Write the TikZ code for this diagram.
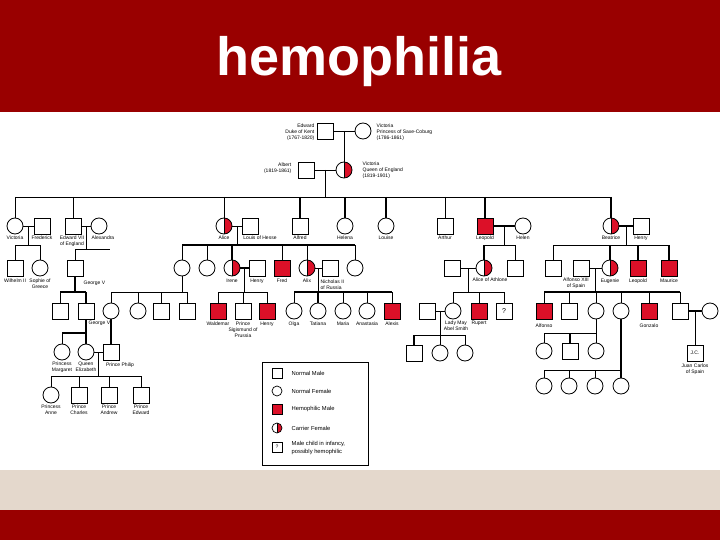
\documentclass[tikz,border=0pt]{standalone}
\usepackage{fontspec}
\setmainfont{Liberation Sans}
\usetikzlibrary{calc}
\definecolor{banred}{RGB}{153,0,0}
\definecolor{hemored}{RGB}{220,16,40}
\definecolor{sand}{RGB}{228,216,204}

\tikzset{
	person/.style={draw,line width=0.8pt,inner sep=0pt,minimum size=16pt},
	male/.style={person,rectangle},
	female/.style={person,circle},
	hemo/.style={male,fill=hemored},
	carrier/.style={female,path picture={\fill[hemored] (path picture bounding box.north) rectangle (path picture bounding box.south east);
		\draw[line width=0.5pt] (path picture bounding box.north) -- (path picture bounding box.south);}},
	query/.style={male,font=\fontsize{7}{7}\selectfont},
	legsz/.style={minimum size=10pt,line width=0.7pt},
	lab/.style={font=\fontsize{5}{6.2}\selectfont,inner sep=0.5pt,align=center},
	keytext/.style={font=\fontsize{5.8}{7.4}\selectfont,inner sep=0.5pt,align=left},
	rel/.style={line width=0.8pt},
	relb/.style={line width=1.8pt},
}

\begin{document}
\begin{tikzpicture}[x=1pt,y=-1pt]
	\useasboundingbox (0,0) rectangle (720,540);
	\fill[banred] (0,0) rectangle (720,112);
	\fill[sand] (0,470) rectangle (720,510);
	\fill[banred] (0,510) rectangle (720,540);
	\node[text=white,font=\fontsize{54}{54}\selectfont\bfseries,anchor=base] (title) at (359,76) {hemophilia};

	% first and second generation
	\node[male] (edw) at (325,131) {};
	\node[female] (vsc) at (363,131) {};
	\node[lab,left,align=right] (l-edw) at (315,132) {Edward\\Duke of Kent\\(1767-1820)};
	\node[lab,right,align=left] (l-vsc) at (376,132) {Victoria\\Princess of Saxe-Coburg\\(1786-1861)};
	\node[male] (alb) at (306,170) {};
	\node[carrier] (vicq) at (344,170) {};
	\node[lab,left,align=right] (l-alb) at (292,168) {Albert\\(1819-1861)};
	\node[lab,right,align=left] (l-vicq) at (362,170) {Victoria\\Queen of England\\(1819-1901)};
	\draw[rel] (edw) -- (vsc);
	\draw[rel] ($(edw)!.5!(vsc)$) -- (vicq);
	\draw[rel] (alb) -- (vicq);

	% children of Victoria
	\node[female] (vic) at (15,226) {};
	\node[male] (fred) at (42,226) {};
	\node[male] (edw7) at (73,226) {};
	\node[female] (alex) at (99,226) {};
	\node[carrier] (alice) at (224,226) {};
	\node[male] (louis) at (250,226) {};
	\node[male] (alf) at (300,226) {};
	\node[female] (hel) at (345,226) {};
	\node[female] (lou) at (386,226) {};
	\node[male] (art) at (445,226) {};
	\node[hemo] (leo) at (485,226) {};
	\node[female] (helen) at (523,226) {};
	\node[carrier] (bea) at (611,226) {};
	\node[male] (hen) at (641,226) {};

	\node[lab,below] (l-vic) at (15,235) {Victoria};
	\node[lab,below] (l-fred) at (42,235) {Frederick};
	\node[lab,below] (l-edw7) at (72,235) {Edward VII\\of England};
	\node[lab,below] (l-alex) at (103,235) {Alexandra};
	\node[lab,below] (l-alice) at (224,235) {Alice};
	\node[lab,below] (l-louis) at (260,235) {Louis of Hesse};
	\node[lab,below] (l-alf) at (300,235) {Alfred};
	\node[lab,below] (l-hel) at (345,235) {Helena};
	\node[lab,below] (l-lou) at (386,235) {Louise};
	\node[lab,below] (l-art) at (445,235) {Arthur};
	\node[lab,below] (l-leo) at (485,235) {Leopold};
	\node[lab,below] (l-helen) at (523,235) {Helen};
	\node[lab,below] (l-bea) at (611,235) {Beatrice};
	\node[lab,below] (l-hen) at (641,235) {Henry};

	\coordinate (s1) at (325,197);
	\draw[rel] ($(alb)!.5!(vicq)$) -- (s1);
	\draw[rel] (vic |- s1) -- (bea |- s1);
	\foreach \c in {vic,edw7,alice,art}
		\draw[rel] (\c |- s1) -- (\c);
	\foreach \c in {alf,hel,lou,leo,bea}
		\draw[relb] (\c |- s1) -- (\c);

	\draw[rel] (vic) -- (fred);
	\draw[rel] (edw7) -- (alex);
	\draw[rel] (alice) -- (louis);
	\draw[relb] (leo) -- (helen);
	\draw[relb] (bea) -- (hen);

	% grandchildren
	\node[male] (wil) at (15,268) {};
	\node[female] (soph) at (40,268) {};
	\node[male] (geo5) at (75,268) {};
	\node[female] (vhes) at (182,268) {};
	\node[female] (eliz) at (207,268) {};
	\node[carrier] (irene) at (232,268) {};
	\node[male] (henp) at (257,268) {};
	\node[hemo] (fritz) at (282,268) {};
	\node[carrier] (alix) at (307,268) {};
	\node[male] (nich) at (330,268) {};
	\node[female] (marie) at (355,268) {};
	\node[male] (athl) at (452,268) {};
	\node[carrier] (aath) at (484,268) {};
	\node[male] (ched) at (515,268) {};
	\node[male] (bs1) at (553,268) {};
	\node[male] (alf13) at (581,268) {};
	\node[carrier] (eug) at (610,268) {};
	\node[hemo] (leob) at (638,268) {};
	\node[hemo] (maur) at (669,268) {};

	\node[lab,below] (l-wil) at (15,278) {Wilhelm II};
	\node[lab,below] (l-soph) at (40,278) {Sophie of\\Greece};
	\node[lab,right] (l-geo5) at (83,283) {George V};
	\node[lab,below] (l-irene) at (232,278) {Irene};
	\node[lab,below] (l-henp) at (257,278) {Henry};
	\node[lab,below] (l-fritz) at (282,278) {Fred};
	\node[lab,below] (l-alix) at (307,278) {Alix};
	\node[lab,right,align=left] (l-nich) at (320,285) {Nicholas II\\of Russia};
	\node[lab,below] (l-aath) at (490,277) {Alice of Athlone};
	\node[lab,below] (l-alf13) at (576,277) {Alfonso XIII\\of Spain};
	\node[lab,below] (l-eug) at (610,278) {Eugenie};
	\node[lab,below] (l-leob) at (638,278) {Leopold};
	\node[lab,below] (l-maur) at (669,278) {Maurice};

	\coordinate (s2) at (0,245);
	\coordinate (m-vic) at ($(vic)!.5!(fred)$);
	\draw[rel] (m-vic) -- (m-vic |- s2);
	\draw[rel] (wil |- s2) -- (soph |- s2);
	\foreach \c in {wil,soph}
		\draw[rel] (\c |- s2) -- (\c);

	\coordinate (s3) at (0,249);
	\coordinate (s3e) at (110,249);
	\coordinate (m-edw7) at ($(edw7)!.5!(alex)$);
	\draw[rel] (m-edw7) -- (m-edw7 |- s3);
	\draw[rel] (geo5 |- s3) -- (s3e);
	\draw[rel] (geo5 |- s3) -- (geo5);

	\coordinate (m-alice) at ($(alice)!.5!(louis)$);
	\draw[rel] (m-alice) -- (m-alice |- s2);
	\draw[relb] (vhes |- s2) -- (marie |- s2);
	\foreach \c in {vhes,eliz,fritz,alix,marie}
		\draw[rel] (\c |- s2) -- (\c);
	\draw[relb] (irene |- s2) -- (irene);

	\coordinate (m-leo) at ($(leo)!.5!(helen)$);
	\draw[rel] (m-leo) -- (m-leo |- s2);
	\draw[rel] (aath |- s2) -- (ched |- s2);
	\draw[relb] (aath |- s2) -- (aath);
	\draw[rel] (ched |- s2) -- (ched);

	\coordinate (m-bea) at ($(bea)!.5!(hen)$);
	\draw[rel] (m-bea) -- (m-bea |- s2);
	\draw[rel] (bs1 |- s2) -- (maur |- s2);
	\draw[rel] (bs1 |- s2) -- (bs1);
	\foreach \c in {eug,leob,maur}
		\draw[relb] (\c |- s2) -- (\c);

	\draw[relb] (irene) -- (henp);
	\draw[rel] (alix) -- (nich);
	\draw[rel] (athl) -- (aath);
	\draw[rel] (alf13) -- (eug);

	% great-grandchildren
	\node[male] (ed8) at (60,311) {};
	\node[male] (geo6) at (86,311) {};
	\node[female] (alb2) at (111,311) {};
	\node[female] (lou2) at (138,311) {};
	\node[male] (geob) at (161,311) {};
	\node[male] (loub) at (187,311) {};
	\node[hemo] (wald) at (218,311) {};
	\node[male] (sig) at (243,311) {};
	\node[hemo] (henr) at (267,311) {};
	\foreach \n/\x in {olga/294,tat/318,mar/343,ana/367}
		\node[female] (\n) at (\x,311) {};
	\node[hemo] (alexis) at (392,311) {};
	\node[male] (mayh) at (427,311) {};
	\node[female] (may) at (453,311) {};
	\node[hemo] (rup) at (479,311) {};
	\node[query] (unk) at (504,311) {?};
	\node[hemo] (alfs) at (544,311) {};
	\node[male] (jaime) at (569,311) {};
	\node[female] (beaz) at (596,311) {};
	\node[female] (mcri) at (621,311) {};
	\node[hemo] (gonz) at (649,311) {};
	\node[male] (juan) at (680,311) {};
	\node[female] (mbour) at (710,311) {};

	\node[lab,right] (l-geo6) at (88,323) {George VI};
	\node[lab,below] (l-wald) at (218,321) {Waldemar};
	\node[lab,below] (l-sig) at (243,321) {Prince\\Sigismund of\\Prussia};
	\node[lab,below] (l-henr) at (267,321) {Henry};
	\node[lab,below] (l-olga) at (294,321) {Olga};
	\node[lab,below] (l-tat) at (318,321) {Tatiana};
	\node[lab,below] (l-mar) at (343,321) {Maria};
	\node[lab,below] (l-ana) at (367,321) {Anastasia};
	\node[lab,below] (l-alexis) at (392,321) {Alexis};
	\node[lab,below] (l-may) at (456,320) {Lady May\\Abel Smith};
	\node[lab,below] (l-rup) at (479,320) {Rupert};
	\node[lab,below] (l-alfs) at (544,323) {Alfonso};
	\node[lab,below] (l-gonz) at (649,323) {Gonzalo};

	\coordinate (s4) at (0,292);
	\coordinate (m-irene) at ($(irene)!.5!(henp)$);
	\draw[rel] (m-irene) -- (m-irene |- s4);
	\draw[rel] (wald |- s4) -- (henr |- s4);
	\foreach \c in {wald,sig,henr}
		\draw[rel] (\c |- s4) -- (\c);

	\coordinate (m-alix) at ($(alix)!.5!(nich)$);
	\draw[relb] (m-alix) -- (m-alix |- s4);
	\draw[relb] (olga |- s4) -- (alexis |- s4);
	\foreach \c in {olga,mar,ana,alexis}
		\draw[rel] (\c |- s4) -- (\c);
	\draw[relb] (tat |- s4) -- (tat);

	\draw[rel] (vhes) -- (vhes |- s4);
	\draw[rel] (alb2 |- s4) -- (loub |- s4);
	\foreach \c in {alb2,lou2,geob,loub}
		\draw[rel] (\c |- s4) -- (\c);

	\draw[relb] (geo5) -- (geo5 |- s4);
	\draw[relb] (ed8 |- s4) -- (geo6 |- s4);
	\draw[rel] (ed8 |- s4) -- (ed8);
	\draw[relb] (geo6 |- s4) -- (geo6);

	\coordinate (m-athl) at ($(athl)!.5!(aath)$);
	\draw[rel] (m-athl) -- (m-athl |- s4);
	\draw[rel] (may |- s4) -- (unk |- s4);
	\foreach \c in {may,rup,unk}
		\draw[rel] (\c |- s4) -- (\c);

	\coordinate (m-alf13) at ($(alf13)!.5!(eug)$);
	\draw[relb] (m-alf13) -- (m-alf13 |- s4);
	\draw[relb] (alfs |- s4) -- (juan |- s4);
	\foreach \c in {alfs,jaime,beaz,mcri,gonz,juan}
		\draw[rel] (\c |- s4) -- (\c);

	\draw[rel] (mayh) -- (may);
	\draw[relb] (juan) -- (mbour);

	% later generations
	\node[female] (marg) at (62,352) {};
	\node[female] (qeliz) at (86,352) {};
	\node[male] (phil) at (111,352) {};
	\node[lab,below] (l-marg) at (62,361) {Princess\\Margaret};
	\node[lab,below] (l-qeliz) at (86,361) {Queen\\Elizabeth};
	\node[lab,below] (l-phil) at (120,362) {Prince Philip};
	\node[male] (mk1) at (414,353) {};
	\node[female] (mk2) at (440,353) {};
	\node[female] (mk3) at (465,353) {};
	\node[female] (bk1) at (544,351) {};
	\node[male] (bk2) at (570,351) {};
	\node[female] (bk3) at (596,351) {};
	\node[male,font=\fontsize{5}{5}\selectfont] (jc) at (695,353) {J.C.};
	\node[lab,below] (l-jc) at (695,363) {Juan Carlos\\of Spain};

	\coordinate (s5) at (0,333);
	\draw[relb] (geo6) -- (geo6 |- s5);
	\draw[relb] (marg |- s5) -- (qeliz |- s5);
	\draw[rel] (marg |- s5) -- (marg);
	\draw[relb] (qeliz |- s5) -- (qeliz);
	\draw[relb] (alb2) -- (phil);

	\coordinate (s6) at (0,335);
	\coordinate (m-may) at ($(mayh)!.5!(may)$);
	\draw[rel] (m-may) -- (m-may |- s6);
	\draw[rel] (mk1 |- s6) -- (mk3 |- s6);
	\draw[relb] (mk1 |- s6) -- (mk1);
	\foreach \c in {mk2,mk3}
		\draw[rel] (\c |- s6) -- (\c);

	\draw[rel] (beaz) -- (beaz |- s5);
	\draw[rel] (bk1 |- s5) -- (bk3 |- s5);
	\draw[rel] (bk1 |- s5) -- (bk1);
	\draw[relb] (bk2 |- s5) -- (bk2);
	\draw[rel] (bk3 |- s5) -- (bk3);

	\coordinate (m-juan) at ($(juan)!.5!(mbour)$);
	\draw[rel] (m-juan) -- (jc);

	\node[female] (anne) at (51,395) {};
	\node[male] (charles) at (79,395) {};
	\node[male] (andrew) at (109,395) {};
	\node[male] (edwp) at (141,395) {};
	\node[lab,below] (l-anne) at (51,404) {Princess\\Anne};
	\node[lab,below] (l-charles) at (79,404) {Prince\\Charles};
	\node[lab,below] (l-andrew) at (109,404) {Prince\\Andrew};
	\node[lab,below] (l-edwp) at (141,404) {Prince\\Edward};
	\foreach \n/\x in {mc1/544,mc2/569,mc3/595,mc4/621}
		\node[female] (\n) at (\x,386) {};

	\draw[rel] (qeliz) -- (phil);
	\coordinate (s8) at (0,376);
	\coordinate (m-qeliz) at ($(qeliz)!.5!(phil)$);
	\draw[rel] (m-qeliz) -- (m-qeliz |- s8);
	\draw[rel] (anne |- s8) -- (edwp |- s8);
	\foreach \c in {anne,charles,andrew,edwp}
		\draw[rel] (\c |- s8) -- (\c);

	\coordinate (s7) at (0,370);
	\draw[relb] (mcri) -- (mcri |- s7);
	\draw[rel] (mc1 |- s7) -- (mc4 |- s7);
	\foreach \c in {mc1,mc2,mc3}
		\draw[rel] (\c |- s7) -- (\c);
	\draw[relb] (mc4 |- s7) -- (mc4);

	% key
	\draw[line width=0.8pt] (262,362) rectangle (368,465);
	\node[male,legsz] (k-male) at (277,373) {};
	\node[female,legsz] (k-female) at (277,391) {};
	\node[hemo,legsz] (k-hemo) at (277,409) {};
	\node[carrier,legsz] (k-carrier) at (277,428) {};
	\node[male,legsz,font=\fontsize{5}{5}\selectfont] (k-query) at (277,447) {?};
	\node[keytext,right] (t-male) at (291,373) {Normal Male};
	\node[keytext,right] (t-female) at (291,391) {Normal Female};
	\node[keytext,right] (t-hemo) at (291,409) {Hemophilic Male};
	\node[keytext,right] (t-carrier) at (291,428) {Carrier Female};
	\node[keytext,right] (t-query) at (291,448) {Male child in infancy,\\possibly hemophilic};
\end{tikzpicture}
\end{document}
